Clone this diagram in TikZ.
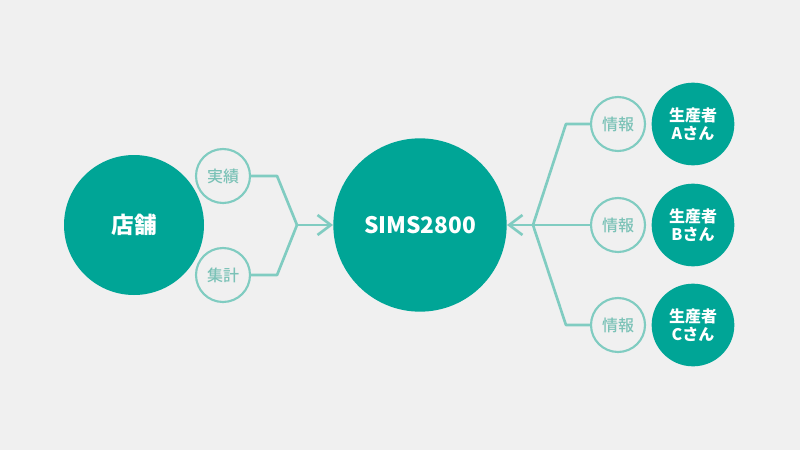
\documentclass[tikz,border=0pt]{standalone}
\usepackage{fontspec}
\setmainfont{Noto Sans CJK JP}
\newfontfamily\tagfont{Noto Sans CJK JP Medium}
\usepackage{tikz}
\usetikzlibrary{arrows.meta}
\definecolor{simsteal}{HTML}{00A596}
\definecolor{simslight}{HTML}{80CCC1}
\definecolor{simstext}{HTML}{7BC2B7}
\definecolor{simsback}{HTML}{F0F0F0}

\tikzset{
  bigdot/.style={circle, fill=simsteal, text=white, font=\bfseries, inner sep=0pt, align=center},
  tagdot/.style={circle, draw=simslight, line width=1.6pt, fill=simsback, text=simstext,
    font=\tagfont\fontsize{12}{12}\selectfont, minimum size=40.5pt, inner sep=0pt},
  flow/.style={draw=simslight, line width=2pt, line join=round, line cap=round},
  flowtip/.style={flow, -{Straight Barb[length=10pt, width=15pt, line width=2pt]}}
}

\begin{document}
\begin{tikzpicture}[x=0.75pt, y=-0.75pt]
  \fill[simsback] (0,0) rectangle (800,450);
  \useasboundingbox (0,0) rectangle (800,450);
  % store side
  \node[bigdot, minimum size=105pt, font=\bfseries\fontsize{17}{18}\selectfont] (store) at (134,225) {店舗};
  \node[tagdot] (jisseki) at (223,176) {実績};
  \node[tagdot] (shukei) at (223,275) {集計};
  % centre
  \node[bigdot, minimum size=130pt, font=\bfseries\fontsize{17}{18}\selectfont] (sims) at (420,225) {SIMS2800};
  \coordinate (joinL) at (297,225);
  \draw[flow] (jisseki.east) -- ++(26,0) -- (joinL);
  \draw[flow] (shukei.east) -- ++(26,0) -- (joinL);
  \draw[flowtip] (joinL) -- (sims.west);
  % producers
  \coordinate (joinR) at (533,225);
  \foreach \row/\ypos in {A/124, B/225, C/325} {
    \node[bigdot, minimum size=62pt, font=\bfseries\fontsize{12}{13.5}\selectfont] (maker\row) at (693,\ypos) {生産者\\\row さん};
    \node[tagdot] (joho\row) at (618,\ypos) {情報};
  }
  \draw[flow] (johoA.west) -- ++(-24,0) -- (joinR);
  \draw[flow] (johoC.west) -- ++(-24,0) -- (joinR);
  \draw[flowtip] (johoB.west) -- (joinR) -- (sims.east);
\end{tikzpicture}
\end{document}
